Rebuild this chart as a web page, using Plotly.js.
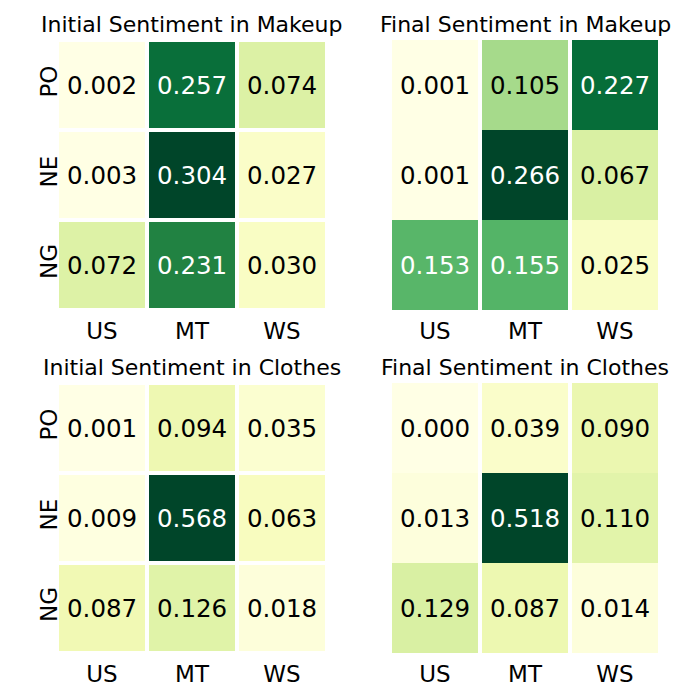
<!DOCTYPE html>
<html>
<head>
<meta charset="utf-8">
<script src="https://cdn.plot.ly/plotly-3.0.1.min.js"></script>
<style>
  html, body { margin: 0; padding: 0; background: #fff; }
  #chart { width: 700px; height: 700px; }
</style>
</head>
<body>
<div id="chart"></div>
<script>
// categories
const columns = ['US', 'MT', 'WS'];
const rows = ['PO', 'NE', 'NG'];

// values, one row per sentiment (PO, NE, NG)
const initialMakeup = [
  [0.002, 0.257, 0.074],
  [0.003, 0.304, 0.027],
  [0.072, 0.231, 0.030]
];
const finalMakeup = [
  [0.001, 0.105, 0.227],
  [0.001, 0.266, 0.067],
  [0.153, 0.155, 0.025]
];
const initialClothes = [
  [0.001, 0.094, 0.035],
  [0.009, 0.568, 0.063],
  [0.087, 0.126, 0.018]
];
const finalClothes = [
  [0.000, 0.039, 0.090],
  [0.013, 0.518, 0.110],
  [0.129, 0.087, 0.014]
];

const titles = [
  'Initial Sentiment in Makeup',
  'Final Sentiment in Makeup',
  'Initial Sentiment in Clothes',
  'Final Sentiment in Clothes'
];

// matplotlib YlGn
const ylgn = ['#ffffe5', '#f7fcb9', '#d9f0a3', '#addd8e', '#78c679',
              '#41ab5d', '#238443', '#006837', '#004529'];
const colorscale = ylgn.map((c, i) => [i / (ylgn.length - 1), c]);

const W = 700, H = 700;
const colDomains = [[57 / W, 327 / W], [390 / W, 660 / W]];
const rowDomains = [[1 - 310 / H, 1 - 40 / H], [1 - 653 / H, 1 - 383 / H]];

const panels = [
  { z: initialMakeup, col: 0, row: 0 },
  { z: finalMakeup, col: 1, row: 0 },
  { z: initialClothes, col: 0, row: 1 },
  { z: finalClothes, col: 1, row: 1 }
];

const font = 'DejaVu Sans';
const data = [];
const annotations = [];
const layout = {
  width: W,
  height: H,
  margin: { l: 0, r: 0, t: 0, b: 0 },
  paper_bgcolor: '#fff',
  plot_bgcolor: '#fff',
  showlegend: false,
  font: { family: font, color: '#000' }
};

panels.forEach((p, k) => {
  const n = k + 1;
  const xa = 'x' + (n === 1 ? '' : n);
  const ya = 'y' + (n === 1 ? '' : n);
  const flat = p.z.flat();
  const zmin = Math.min(...flat);
  const zmax = Math.max(...flat);

  data.push({
    type: 'heatmap',
    x: columns,
    y: rows,
    z: p.z,
    xaxis: xa,
    yaxis: ya,
    colorscale: colorscale,
    zmin: zmin,
    zmax: zmax,
    showscale: false,
    xgap: 4,
    ygap: p.col === 0 ? 4 : 0,
    hoverinfo: 'skip'
  });

  layout['xaxis' + (n === 1 ? '' : n)] = {
    domain: colDomains[p.col],
    anchor: ya,
    type: 'category',
    showgrid: false,
    zeroline: false,
    showline: false,
    ticks: '',
    ticklabelstandoff: 5,
    tickfont: { family: font, size: 23, color: '#000' },
    fixedrange: true
  };
  layout['yaxis' + (n === 1 ? '' : n)] = {
    domain: rowDomains[p.row],
    anchor: xa,
    type: 'category',
    autorange: 'reversed',
    showgrid: false,
    zeroline: false,
    showline: false,
    ticks: '',
    ticklabelstandoff: -6,
    tickangle: -90,
    showticklabels: p.col === 0,
    tickfont: { family: font, size: 23, color: '#000' },
    fixedrange: true
  };

  // cell labels
  p.z.forEach((r, i) => {
    r.forEach((v, j) => {
      const norm = (v - zmin) / (zmax - zmin);
      annotations.push({
        x: columns[j],
        y: rows[i],
        xref: xa,
        yref: ya,
        text: v.toFixed(3),
        showarrow: false,
        font: { family: font, size: 24.5, color: norm > 0.5 ? '#fff' : '#000' }
      });
    });
  });

  // panel title
  annotations.push({
    x: (colDomains[p.col][0] + colDomains[p.col][1]) / 2,
    y: rowDomains[p.row][1],
    xref: 'paper',
    yref: 'paper',
    xanchor: 'center',
    yanchor: 'bottom',
    yshift: 1,
    text: titles[k],
    showarrow: false,
    font: { family: font, size: 22, color: '#000' }
  });
});

layout.annotations = annotations;

Plotly.newPlot('chart', data, layout, { displayModeBar: false, staticPlot: true });
</script>
</body>
</html>
